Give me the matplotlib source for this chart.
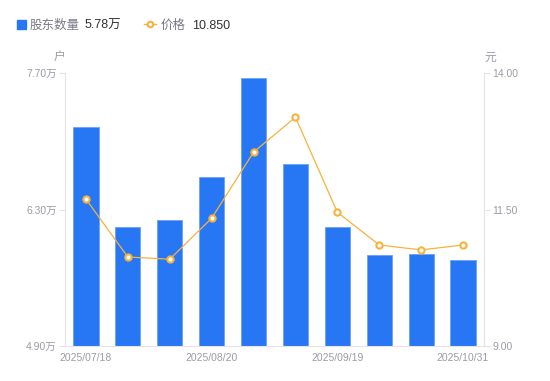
import matplotlib.pyplot as plt
from matplotlib.lines import Line2D
from matplotlib.patches import Rectangle

plt.rcParams['font.family'] = ['Liberation Sans', 'Noto Sans CJK SC']

dates = ["2025/07/18", "2025/07/31", "2025/08/10", "2025/08/20", "2025/08/31",
         "2025/09/10", "2025/09/19", "2025/09/30", "2025/10/20", "2025/10/31"]
holders = [7.146, 6.121, 6.192, 6.633, 7.649, 6.767, 6.121, 5.833, 5.844, 5.782]  # 万户
price = [11.69, 10.63, 10.59, 11.34, 12.55, 13.19, 11.45, 10.85, 10.76, 10.85]  # 元
tick_idx = [0, 3, 6, 9]

blue = '#2777F5'
orange = '#F7B23B'
grey = '#9b9ba8'
axis_c = '#e3e3e8'

fig = plt.figure(figsize=(5.5, 3.81), dpi=100)
ax = fig.add_axes([65 / 550, 35 / 381, 419 / 550, 273 / 381])
x = list(range(len(dates)))

ax.bar(x, holders, width=0.6, color=blue, edgecolor='#6aa2f8', linewidth=0.6, zorder=2)
ax.set_xlim(-0.5, len(dates) - 0.5)
ax.set_ylim(4.9, 7.7)
ax.set_yticks([4.9, 6.3, 7.7])
ax.set_yticklabels(["4.90万", "6.30万", "7.70万"])
ax.set_xticks(tick_idx)
ax.set_xticklabels([dates[i] for i in tick_idx])

ax2 = ax.twinx()
ax2.plot(x, price, color=orange, linewidth=0.9, marker='o', markersize=4.5,
         markerfacecolor='white', markeredgecolor=orange, markeredgewidth=1.5, zorder=3)
ax2.set_ylim(9, 14)
ax2.set_yticks([9, 11.5, 14])
ax2.set_yticklabels(["9.00", "11.50", "14.00"])

for a in (ax, ax2):
    for s in a.spines.values():
        s.set_visible(False)
    a.tick_params(colors=grey, labelsize=7.5, length=4, width=0.8)
    a.tick_params(axis='y', color=axis_c, pad=2)
    a.tick_params(axis='x', length=0, pad=5)
ax.spines['left'].set_visible(True)
ax.spines['left'].set_color(axis_c)
ax.spines['bottom'].set_visible(True)
ax.spines['bottom'].set_color(axis_c)
ax2.spines['right'].set_visible(True)
ax2.spines['right'].set_color(axis_c)
ax.set_zorder(ax2.get_zorder() - 1)
ax2.patch.set_visible(False)

fig.text(60 / 550, 1 - 58 / 381, "户", color=grey, fontsize=8.5, ha='center', va='center')
fig.text(490 / 550, 1 - 58 / 381, "元", color=grey, fontsize=8.5, ha='center', va='center')

# legend
ly = 1 - 24 / 381
ty = 1 - 26 / 381
fig.add_artist(Rectangle((17 / 550, ly - 4.5 / 381), 9 / 550, 9 / 381,
                         transform=fig.transFigure, color=blue))
fig.text(30 / 550, ty, "股东数量", color='#7a7a88', fontsize=9, va='center')
fig.text(85 / 550, ty, "5.78万", color='#333333', fontsize=9, va='center')
fig.add_artist(Line2D([144 / 550, 156 / 550], [ly, ly], transform=fig.transFigure,
                      color=orange, linewidth=1))
fig.add_artist(Line2D([150 / 550], [ly], transform=fig.transFigure, marker='o',
                      markersize=4, markerfacecolor='white', markeredgecolor=orange,
                      markeredgewidth=1.5))
fig.text(161 / 550, ty, "价格", color='#7a7a88', fontsize=9, va='center')
fig.text(192 / 550, ty, "10.850", color='#333333', fontsize=9, va='center')

fig.savefig("out.png", dpi=100)
